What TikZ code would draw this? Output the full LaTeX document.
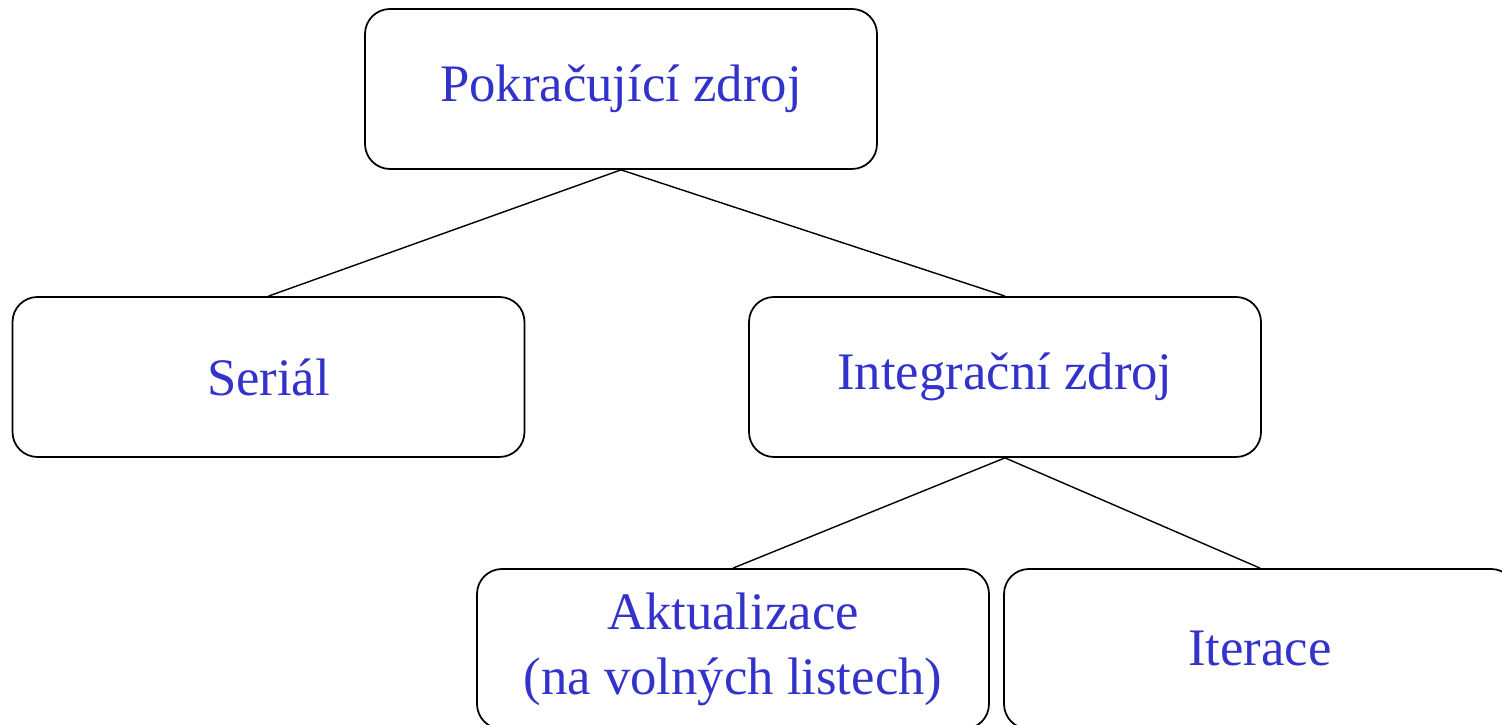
\documentclass[tikz,border=0pt]{standalone}
\usepackage{fontspec}
\setmainfont{Liberation Serif}
\usepackage{tikz}
\usetikzlibrary{positioning}
\definecolor{labelblue}{RGB}{51,51,204}

\begin{document}
\begin{tikzpicture}[
data/.style={
rectangle,
rounded corners=0.5cm,
draw,
line width=1pt,
minimum width=10.24cm,
minimum height=3.2cm,
align=center,
text=labelblue,
font=\fontsize{30}{37}\selectfont
},
to/.style={line width=0.8pt},
]
\useasboundingbox (0,0) rectangle (30.04,14.5);
\node (source) [data] at (12.42,12.72) {Pokračující zdroj};
\node (serial) [data] at (5.37,6.96) {Seriál};
\node (integr) [data] at (20.1,6.96) {Integrační zdroj};
\node (update) [data] at (14.66,1.52) {Aktualizace\\(na volných listech)};
\node (iter) [data] at (25.2,1.52) {Iterace};
\draw[to] (source.south) -- (serial.north);
\draw[to] (source.south) -- (integr.north);
\draw[to] (integr.south) -- (update.north);
\draw[to] (integr.south) -- (iter.north);
\end{tikzpicture}
\end{document}
